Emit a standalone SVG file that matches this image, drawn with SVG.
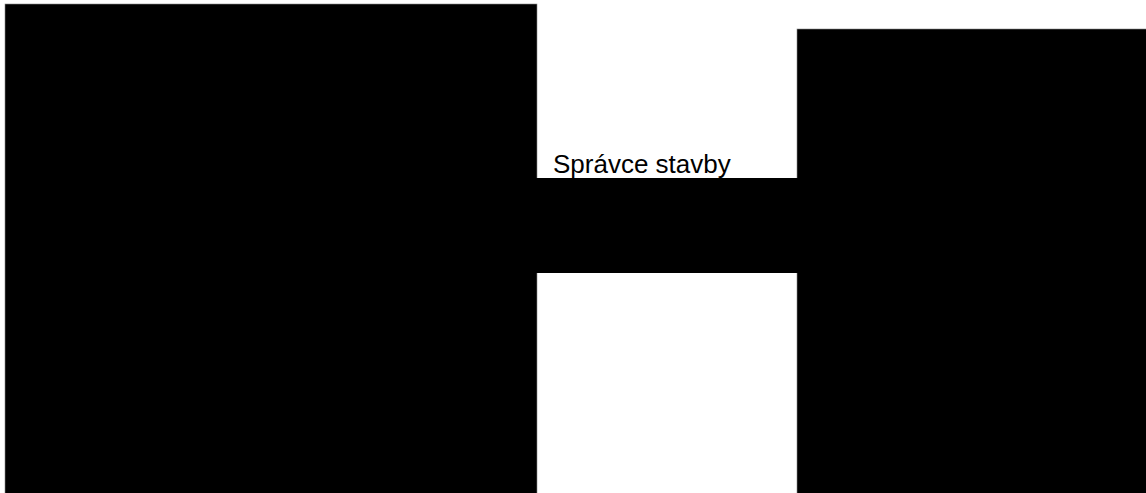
<svg xmlns="http://www.w3.org/2000/svg" width="1146" height="493" viewBox="0 0 1146 493">
<style>
.blk{fill:#000;stroke:#888;stroke-width:0.6}
.lbl{font-family:"Liberation Sans",Arial,sans-serif;font-size:26px;fill:#000}
</style>
<rect width="1146" height="493" fill="#fff"/>
<g id="left"><rect class="blk" x="5" y="4" width="532" height="495"/></g>
<g id="right"><rect class="blk" x="797" y="29" width="355" height="470"/></g>
<g id="connectors"><rect x="536" y="178" width="262" height="95" fill="#000"/></g>
<g id="label"><text class="lbl" x="553" y="173">Správce stavby</text></g>
</svg>
